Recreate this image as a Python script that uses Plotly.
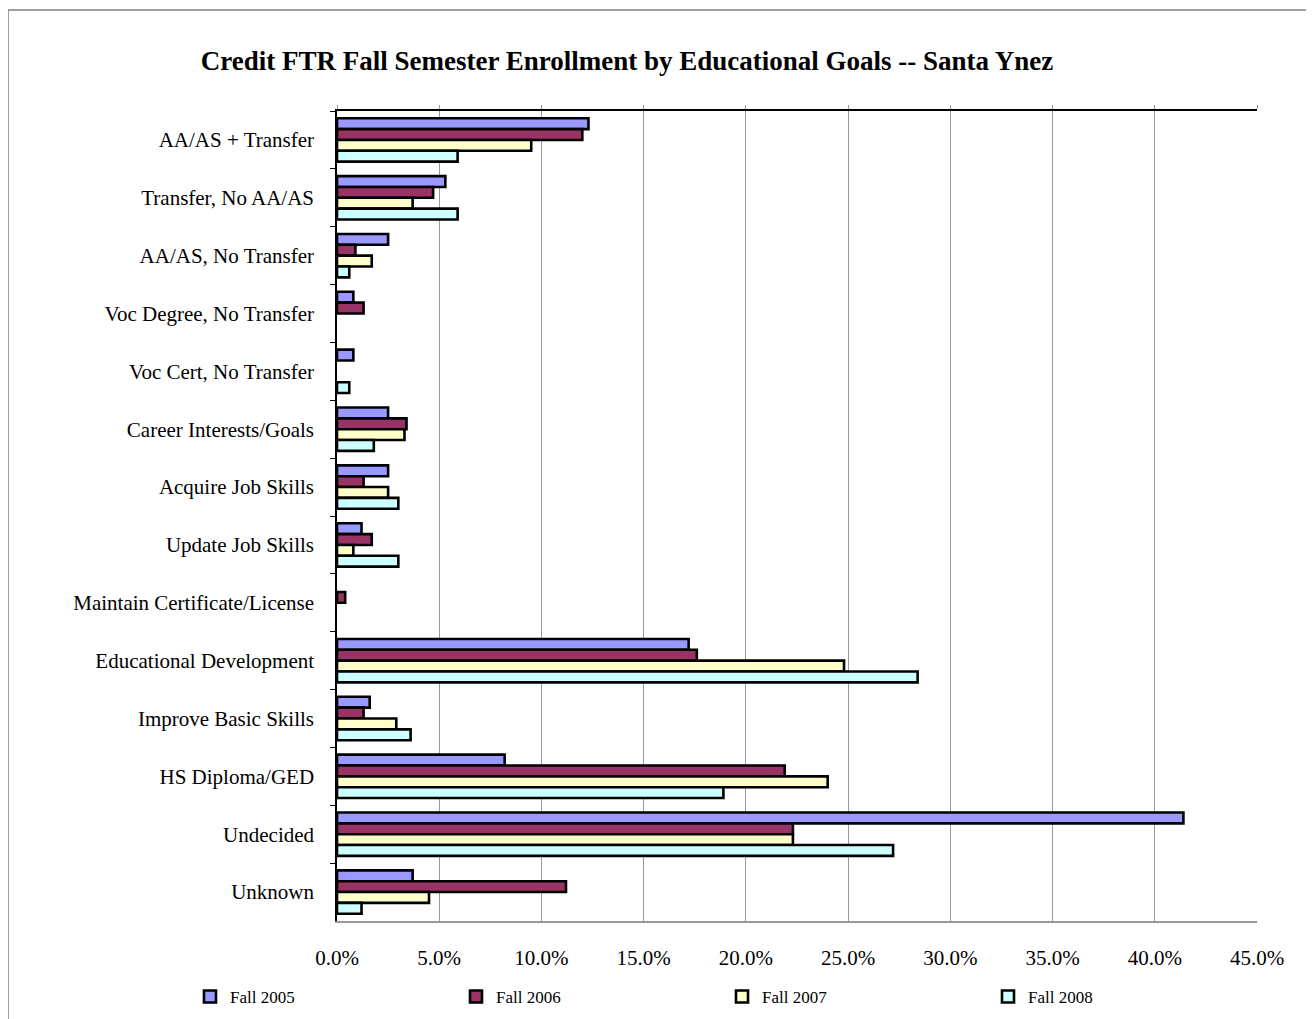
import plotly.graph_objects as go

categories = ["AA/AS + Transfer", "Transfer, No AA/AS", "AA/AS, No Transfer",
              "Voc Degree, No Transfer", "Voc Cert, No Transfer", "Career Interests/Goals",
              "Acquire Job Skills", "Update Job Skills", "Maintain Certificate/License",
              "Educational Development", "Improve Basic Skills", "HS Diploma/GED",
              "Undecided", "Unknown"]

fall2005 = [12.3, 5.3, 2.5, 0.8, 0.8, 2.5, 2.5, 1.2, 0.0, 17.2, 1.6, 8.2, 41.4, 3.7]
fall2006 = [12.0, 4.7, 0.9, 1.3, 0.0, 3.4, 1.3, 1.7, 0.4, 17.6, 1.3, 21.9, 22.3, 11.2]
fall2007 = [9.5, 3.7, 1.7, 0.0, 0.0, 3.3, 2.5, 0.8, 0.0, 24.8, 2.9, 24.0, 22.3, 4.5]
fall2008 = [5.9, 5.9, 0.6, 0.0, 0.6, 1.8, 3.0, 3.0, 0.0, 28.4, 3.6, 18.9, 27.2, 1.2]

series_names = ["Fall 2005", "Fall 2006", "Fall 2007", "Fall 2008"]
series_values = [fall2005, fall2006, fall2007, fall2008]
series_colors = ["#9999FF", "#993366", "#FFFFCC", "#CCFFFF"]

x_ticks = [0, 5, 10, 15, 20, 25, 30, 35, 40, 45]

FONT = "Liberation Serif, Times New Roman, serif"

fig = go.Figure()
for name, vals, col in zip(series_names, series_values, series_colors):
    fig.add_trace(go.Bar(
        y=categories, x=[v if v else None for v in vals], name=name, orientation="h",
        marker=dict(color=col, line=dict(color="black", width=2.6)),
    ))

# invisible trace to anchor top axis
fig.add_trace(go.Scatter(x=[0, 45], y=[categories[0], categories[0]], xaxis="x2",
                         mode="markers", marker=dict(opacity=0), showlegend=False,
                         hoverinfo="skip"))

OFF = 8  # page body margin
W, H = 1314 - OFF, 1019 - OFF
L, R, T, B = 337 - OFF, 1257 - OFF, 111 - OFF, 921 - OFF
pw, ph = R - L, B - T

fig.update_layout(
    width=W, height=H,
    margin=dict(l=L, r=W - R, t=T, b=H - B, autoexpand=False),
    paper_bgcolor="white", plot_bgcolor="white",
    font=dict(family=FONT, color="black"),
    barmode="group", bargap=0.25, bargroupgap=0,
    title=dict(text="<b>Credit FTR Fall Semester Enrollment by Educational Goals -- Santa Ynez</b>",
               x=(627 - OFF) / W, xanchor="center", y=1 - (61 - OFF) / H, yanchor="middle",
               font=dict(size=27, family=FONT, color="black")),
    xaxis=dict(range=[0, 45], tickvals=x_ticks, ticktext=[f"{v:.1f}%" for v in x_ticks],
               showgrid=True, gridcolor="#999999", gridwidth=1,
               showline=True, linecolor="#999999", linewidth=1.5,
               zeroline=False, ticks="", tickfont=dict(size=21),
               ticklabelstandoff=17, automargin=False),
    xaxis2=dict(range=[0, 45], overlaying="x", side="top", tickvals=x_ticks,
                showticklabels=False, showgrid=False, zeroline=False,
                showline=True, linecolor="black", linewidth=1.5,
                ticks="outside", ticklen=4, tickcolor="#999999"),
    yaxis=dict(range=[len(categories) - 0.5, -0.5], autorange=False,
               showline=True, linecolor="black", linewidth=1.5,
               ticks="outside", tickson="boundaries", ticklen=5, tickcolor="black",
               tickfont=dict(size=21), ticklabelstandoff=17, showgrid=False,
               automargin=False),
    legend=dict(orientation="h", x=(190 - L - OFF) / pw, xanchor="left",
                y=(B + OFF - 997) / ph, yanchor="middle",
                font=dict(size=17, family=FONT), entrywidth=221,
                itemwidth=30, bgcolor="rgba(0,0,0,0)"),
    showlegend=True,
    shapes=[dict(type="rect", xref="paper", yref="paper",
                 x0=(8 - OFF - L) / pw, x1=1.2, y0=-0.3, y1=(B - (10 - OFF)) / ph,
                 line=dict(color="#808080", width=1.5), fillcolor="rgba(0,0,0,0)",
                 layer="below")],
)

fig.write_html("out.html")
